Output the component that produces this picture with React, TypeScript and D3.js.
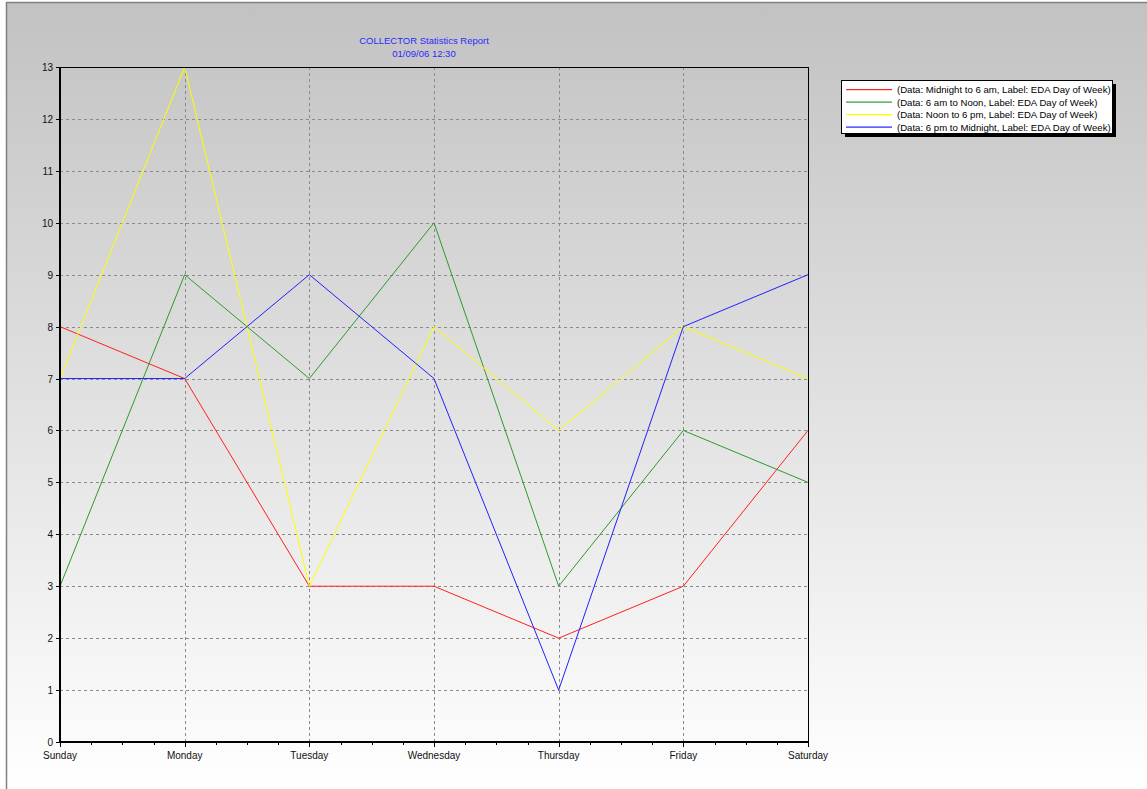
import React from "react";
import * as d3 from "d3";

const days = ["Sunday", "Monday", "Tuesday", "Wednesday", "Thursday", "Friday", "Saturday"];
const midnightTo6 = [8, 7, 3, 3, 2, 3, 6];
const sixToNoon = [3, 9, 7, 10, 3, 6, 5];
const noonTo6 = [7, 13, 3, 8, 6, 8, 7];
const sixToMidnight = [7, 7, 9, 7, 1, 8, 9];
const yTicks = d3.range(0, 14);
const seriesNames = [
  "(Data: Midnight to 6 am, Label: EDA Day of Week)",
  "(Data: 6 am to Noon, Label: EDA Day of Week)",
  "(Data: Noon to 6 pm, Label: EDA Day of Week)",
  "(Data: 6 pm to Midnight, Label: EDA Day of Week)",
];
const seriesColors = ["#ff2020", "#2e9a2e", "#ffff00", "#2020ff"];
const seriesValues = [midnightTo6, sixToNoon, noonTo6, sixToMidnight];

export default function App() {
  const W = 1147, H = 789;
  const left = 60, right = 808, top = 67, bottom = 742;
  const x = d3.scalePoint<string>().domain(days).range([left, right]);
  const y = d3.scaleLinear().domain([0, 13]).range([bottom, top]);
  const line = d3.line<number>().x((_, i) => x(days[i])!).y((d) => y(d));
  const font = "'Liberation Sans', Arial, sans-serif";
  const step = x.step();
  const minor: number[] = [];
  days.slice(0, -1).forEach((d) => {
    for (let k = 1; k < 4; k++) minor.push(x(d)! + (step * k) / 4);
  });
  const lx = 841, ly = 80, lw = 271, lh = 53;
  return (
    <svg width={W} height={H} style={{ position: "absolute", left: 0, top: 0 }} fontFamily={font}>
      <defs>
        <linearGradient id="bg" x1="0" y1="0" x2="0" y2="1">
          <stop offset="0" stopColor="#c2c2c2" />
          <stop offset="1" stopColor="#ffffff" />
        </linearGradient>
      </defs>
      <rect x={0} y={0} width={W} height={H} fill="#ffffff" />
      <rect x={6} y={2} width={W - 6} height={H - 2} fill="url(#bg)" />
      <line x1={6.5} y1={2} x2={6.5} y2={H} stroke="#808080" strokeWidth={1.5} />
      <line x1={6} y1={2.5} x2={W} y2={2.5} stroke="#808080" strokeWidth={1.5} />
      <text x={424} y={44} textAnchor="middle" fontSize={9.5} fill="#2a2aff">COLLECTOR Statistics Report</text>
      <text x={424} y={57} textAnchor="middle" fontSize={9.5} fill="#2a2aff">01/09/06 12:30</text>
      {/* grid */}
      {yTicks.slice(1, -1).map((t) => (
        <line key={"gy" + t} x1={left} x2={right} y1={Math.round(y(t)) + 0.5} y2={Math.round(y(t)) + 0.5} stroke="#8a8a8a" strokeDasharray="3,3" />
      ))}
      {days.slice(1, -1).map((d) => (
        <line key={"gx" + d} x1={Math.round(x(d)!) + 0.5} x2={Math.round(x(d)!) + 0.5} y1={top} y2={bottom} stroke="#8a8a8a" strokeDasharray="3,3" />
      ))}
      {/* series */}
      {seriesValues.map((vals, i) => (
        <path key={"s" + i} d={line(vals)!} fill="none" stroke={seriesColors[i]} strokeWidth={1} />
      ))}
      {/* frame */}
      <line x1={left} x2={right} y1={top + 0.5} y2={top + 0.5} stroke="#000" />
      <line x1={right + 0.5} x2={right + 0.5} y1={top} y2={bottom} stroke="#000" />
      <line x1={left} x2={left} y1={top} y2={bottom + 1} stroke="#000" strokeWidth={2} />
      <line x1={left - 1} x2={right + 1} y1={bottom} y2={bottom} stroke="#000" strokeWidth={2} />
      {/* y ticks */}
      {yTicks.map((t) => (
        <g key={"yt" + t}>
          <line x1={left - 4} x2={left} y1={Math.round(y(t)) + 0.5} y2={Math.round(y(t)) + 0.5} stroke="#000" />
          <text x={left - 7} y={y(t) + 4} textAnchor="end" fontSize={10} fill="#111">{t}</text>
        </g>
      ))}
      {/* x ticks */}
      {days.map((d) => (
        <g key={"xt" + d}>
          <line x1={Math.round(x(d)!) + 0.5} x2={Math.round(x(d)!) + 0.5} y1={bottom} y2={bottom + 5} stroke="#000" />
          <text x={x(d)!} y={bottom + 17} textAnchor="middle" fontSize={10} fill="#111">{d}</text>
        </g>
      ))}
      {minor.map((m, i) => (
        <line key={"mx" + i} x1={Math.round(m) + 0.5} x2={Math.round(m) + 0.5} y1={bottom} y2={bottom + 3} stroke="#000" />
      ))}
      {/* legend */}
      <rect x={lx + 4} y={ly + 4} width={lw} height={lh} fill="#000" />
      <rect x={lx + 0.5} y={ly + 0.5} width={lw} height={lh} fill="#ffffff" stroke="#000" />
      {seriesNames.map((n, i) => (
        <g key={"lg" + i}>
          <rect x={lx + 5} y={ly + 9 + i * 12.5} width={46} height={1.2} fill={seriesColors[i]} />
          <text x={lx + 56} y={ly + 13 + i * 12.5} fontSize={9.6} fill="#000">{n}</text>
        </g>
      ))}
    </svg>
  );
}
